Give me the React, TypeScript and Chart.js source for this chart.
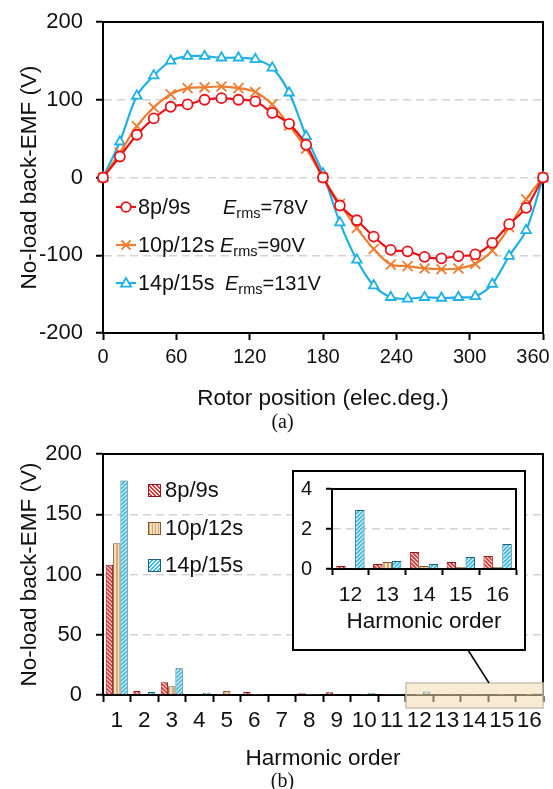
import React, { useEffect, useRef } from "react";
import { Chart, registerables } from "chart.js";

Chart.register(...registerables);

const FONT = '"Liberation Sans", Arial, sans-serif';

// ---------- (a) no-load back-EMF waveform ----------
const rotorAngle = [0, 13.8, 27.7, 41.5, 55.4, 69.2, 83.1, 96.9, 110.8, 124.6, 138.5, 152.3, 166.2, 180, 193.8, 207.7, 221.5, 235.4, 249.2, 263.1, 276.9, 290.8, 304.6, 318.5, 332.3, 346.2, 360];
const emf8p9s = [0, 27, 55, 76, 91, 94, 100, 102, 100, 98, 83, 69, 42, 0, -36, -55, -76, -93, -95, -102, -104, -101, -99, -84, -60, -39, 0];
const emf10p12s = [0, 32, 66, 90, 107, 115, 116, 117, 115, 110, 94, 67, 37, 0, -34, -65, -92, -112, -114, -117, -118, -117, -111, -94, -64, -28, 0];
const emf14p15s = [0, 46, 105, 131, 150, 156, 156, 154, 154, 152, 141, 109, 53, 5, -58, -106, -139, -154, -156, -154, -155, -154, -153, -137, -101, -68, 0];
const angleTicks = [0, 60, 120, 180, 240, 300, 360];
const emfTicks = [-200, -100, 0, 100, 200];
const seriesNames = ["8p/9s", "10p/12s", "14p/15s"];
const ermsValues = ["78V", "90V", "131V"];

// ---------- (b) harmonic spectrum ----------
const harmonicOrder = ["1", "2", "3", "4", "5", "6", "7", "8", "9", "10", "11", "12", "13", "14", "15", "16"];
const harm8p9s = [108, 3.3, 10.5, 0.5, 0.3, 2.5, 0.8, 1.5, 2.2, 0.5, 0.3, 0.15, 0.25, 0.85, 0.35, 0.65];
const harm10p12s = [126, 0.8, 7.2, 0.5, 3.3, 0.3, 0.8, 0.3, 0.5, 0.3, 0.3, 0.05, 0.35, 0.15, 0.1, 0.1];
const harm14p15s = [178, 2.5, 22.2, 1.7, 0.5, 0.3, 0.5, 0.3, 0.5, 1.5, 0.3, 2.95, 0.4, 0.25, 0.6, 1.25];
const harmTicks = [0, 50, 100, 150, 200];
const insetFrom = 11; // harmonic 12 onward
const insetTicks = [0, 2, 4];

const RED = "#e8141c";
const ORANGE = "#ed7d31";
const BLUE = "#1fb0e6";

const framePlugin = {
  id: "frame",
  beforeDatasetsDraw(chart: any) {
    const { ctx, chartArea: a } = chart;
    ctx.save();
    ctx.strokeStyle = "#000";
    ctx.lineWidth = 2;
    ctx.strokeRect(a.left, a.top, a.right - a.left, a.bottom - a.top);
    ctx.restore();
  },
};

function makePattern(kind: string, fg: string, bg: string) {
  const c = document.createElement("canvas");
  c.width = 4;
  c.height = 4;
  const g = c.getContext("2d")!;
  g.fillStyle = bg;
  g.fillRect(0, 0, 4, 4);
  g.strokeStyle = fg;
  g.fillStyle = fg;
  g.lineWidth = 1.6;
  g.beginPath();
  if (kind === "down") {
    g.moveTo(-1, -1); g.lineTo(5, 5);
    g.moveTo(-1, 3); g.lineTo(1, 5);
    g.moveTo(3, -1); g.lineTo(5, 1);
    g.stroke();
  } else if (kind === "up") {
    g.moveTo(-1, 5); g.lineTo(5, -1);
    g.moveTo(-1, 1); g.lineTo(1, -1);
    g.moveTo(3, 5); g.lineTo(5, 3);
    g.stroke();
  } else {
    g.fillRect(0, 0, 2, 4);
  }
  return g.createPattern(c, "repeat");
}

const gridColorSkip = (edges: number[]) => (c: any) =>
  c.tick && edges.includes(c.tick.value) ? "rgba(0,0,0,0)" : "#d3d3d3";

const setTicks = (vals: number[]) => (s: any) => {
  s.ticks = vals.map((v) => ({ value: v }));
};

function LegendIcon({ color, shape }: { color: string; shape: string }) {
  return (
    <svg width="22" height="14" style={{ position: "absolute", left: 115, top: 6 }}>
      <line x1="1" y1="7" x2="21" y2="7" stroke={color} strokeWidth="2.2" />
      {shape === "circle" && <circle cx="11" cy="7" r="4.8" fill="#fff" stroke={color} strokeWidth="1.8" />}
      {shape === "cross" && <path d="M6.5 2.5 L15.5 11.5 M15.5 2.5 L6.5 11.5" stroke={color} strokeWidth="1.8" />}
      {shape === "triangle" && <path d="M11 2 L16 10.6 L6 10.6 Z" fill="#fff" stroke={color} strokeWidth="1.8" />}
    </svg>
  );
}

export default function App() {
  const refA = useRef<HTMLCanvasElement>(null);
  const refB = useRef<HTMLCanvasElement>(null);
  const refC = useRef<HTMLCanvasElement>(null);

  useEffect(() => {
    const charts: Chart[] = [];
    const tickFont = (size: number) => ({ family: FONT, size });

    // ---------- chart (a) ----------
    const mk = (arr: number[]) => rotorAngle.map((x, i) => ({ x, y: arr[i] }));
    const lastAngle = angleTicks[angleTicks.length - 1];
    charts.push(
      new Chart(refA.current!, {
        type: "line",
        data: {
          datasets: [
            { label: seriesNames[0], data: mk(emf8p9s), borderColor: RED, borderWidth: 2.2, pointStyle: "circle", pointRadius: 5, pointBorderWidth: 1.8, pointBorderColor: RED, pointBackgroundColor: "#fff", tension: 0.3, clip: false },
            { label: seriesNames[1], data: mk(emf10p12s), borderColor: ORANGE, borderWidth: 2.2, pointStyle: "crossRot", pointRadius: 7, pointBorderWidth: 1.8, pointBorderColor: ORANGE, tension: 0.3, clip: false },
            { label: seriesNames[2], data: mk(emf14p15s), borderColor: BLUE, borderWidth: 2.2, pointStyle: "triangle", pointRadius: 5.5, pointBorderWidth: 1.8, pointBorderColor: BLUE, pointBackgroundColor: "#fff", tension: 0.3, clip: false },
          ],
        },
        options: {
          animation: false,
          responsive: false,
          devicePixelRatio: 1,
          layout: { padding: { top: 22, right: 10, left: 0, bottom: 0 } },
          plugins: { legend: { display: false }, tooltip: { enabled: false } },
          scales: {
            x: {
              type: "linear",
              min: 0,
              max: 360,
              afterBuildTicks: setTicks(angleTicks),
              afterFit: (s: any) => { s.height = 79; s.paddingLeft = 0; s.paddingRight = 0; },
              ticks: {
                font: tickFont(20),
                color: "#111",
                padding: 5,
                maxRotation: 0,
                autoSkip: false,
                // keep the last label inside the page, as in the source figure
                callback: (v: any) => (v === lastAngle ? String(v) + "\u2003" : String(v)),
              },
              grid: { drawOnChartArea: false, tickLength: 7, tickColor: "#000", tickWidth: 2 },
              border: { color: "#000", width: 2 },
              title: { display: true, text: "Rotor position (elec.deg.)", font: tickFont(22.5), color: "#111", padding: { top: 0, bottom: 0 } },
            },
            y: {
              type: "linear",
              min: -200,
              max: 200,
              afterBuildTicks: setTicks(emfTicks),
              afterFit: (s: any) => { s.width = 103; s.paddingTop = 0; s.paddingBottom = 0; },
              ticks: { font: tickFont(22), color: "#111", padding: 13 },
              grid: { color: gridColorSkip([-200, 200]), lineWidth: 1.5, tickLength: 7, tickColor: "#000", tickWidth: 2 },
              border: { color: "#000", width: 2, dash: [8, 5] },
              title: { display: true, text: "No-load back-EMF (V)", font: tickFont(22.5), color: "#111", padding: { top: 16, bottom: 0 } },
            },
          },
        },
        plugins: [framePlugin],
      } as any)
    );

    // ---------- patterns ----------
    const patRed = makePattern("down", "#d83434", "#fdeaea");
    const patTan = makePattern("vert", "#d9ad72", "#f3dfc0");
    const patBlue = makePattern("up", "#35b8e0", "#e8f8fd");

    const barDatasets = (from: number) => [
      { label: seriesNames[0], data: harm8p9s.slice(from), backgroundColor: patRed, borderColor: "#8e1b1b", borderWidth: 1 },
      { label: seriesNames[1], data: harm10p12s.slice(from), backgroundColor: patTan, borderColor: "#7d5a2e", borderWidth: 1 },
      { label: seriesNames[2], data: harm14p15s.slice(from), backgroundColor: patBlue, borderColor: "#1d5f7c", borderWidth: 1 },
    ];

    // ---------- chart (b) ----------
    charts.push(
      new Chart(refB.current!, {
        type: "bar",
        data: { labels: harmonicOrder, datasets: barDatasets(0) as any },
        options: {
          animation: false,
          responsive: false,
          devicePixelRatio: 1,
          layout: { padding: { top: 24, right: 10, left: 0, bottom: 0 } },
          plugins: { legend: { display: false }, tooltip: { enabled: false } },
          datasets: { bar: { barPercentage: 1, categoryPercentage: 0.8 } },
          scales: {
            x: {
              type: "category",
              offset: true,
              afterFit: (s: any) => { s.height = 80; s.paddingLeft = 0; s.paddingRight = 0; },
              ticks: { font: tickFont(22.5), color: "#111", padding: 5, maxRotation: 0, autoSkip: false },
              grid: { offset: true, drawOnChartArea: false, tickLength: 7, tickColor: "#000", tickWidth: 2 },
              border: { color: "#000", width: 2 },
              title: { display: true, text: "Harmonic order", font: tickFont(22.5), color: "#111", padding: { top: 0, bottom: 2.5 } },
            },
            y: {
              type: "linear",
              min: 0,
              max: 200,
              afterBuildTicks: setTicks(harmTicks),
              afterFit: (s: any) => { s.width = 103; s.paddingTop = 0; s.paddingBottom = 0; },
              ticks: { font: tickFont(22), color: "#111", padding: 14 },
              grid: { color: gridColorSkip([0, 200]), lineWidth: 1.5, tickLength: 7, tickColor: "#000", tickWidth: 2 },
              border: { color: "#000", width: 2, dash: [8, 5] },
              title: { display: true, text: "No-load back-EMF (V)", font: tickFont(22.5), color: "#111", padding: { top: 16, bottom: 0 } },
            },
          },
        },
        plugins: [framePlugin],
      } as any)
    );

    // ---------- inset ----------
    charts.push(
      new Chart(refC.current!, {
        type: "bar",
        data: { labels: harmonicOrder.slice(insetFrom), datasets: barDatasets(insetFrom) as any },
        options: {
          animation: false,
          responsive: false,
          devicePixelRatio: 1,
          layout: { padding: { top: 14, right: 7, left: 0, bottom: 0 } },
          plugins: { legend: { display: false }, tooltip: { enabled: false } },
          datasets: { bar: { barPercentage: 1, categoryPercentage: 0.77 } },
          scales: {
            x: {
              type: "category",
              offset: true,
              afterFit: (s: any) => { s.height = 76; s.paddingLeft = 0; s.paddingRight = 0; },
              ticks: { font: tickFont(21), color: "#111", padding: 8, maxRotation: 0, autoSkip: false },
              grid: { offset: true, drawOnChartArea: false, tickLength: 6, tickColor: "#000", tickWidth: 2 },
              border: { color: "#000", width: 2 },
              title: { display: true, text: "Harmonic order", font: tickFont(22.5), color: "#111", padding: { top: 0, bottom: 9.5 } },
            },
            y: {
              type: "linear",
              min: 0,
              max: 4,
              afterBuildTicks: setTicks(insetTicks),
              afterFit: (s: any) => { s.width = 37; s.paddingTop = 0; s.paddingBottom = 0; },
              ticks: { font: tickFont(20), color: "#111", padding: 14 },
              grid: { color: gridColorSkip([0, 4]), lineWidth: 1.5, tickLength: 6, tickColor: "#000", tickWidth: 2 },
              border: { color: "#000", width: 2, dash: [8, 5] },
            },
          },
        },
        plugins: [framePlugin],
      } as any)
    );

    return () => charts.forEach((c) => c.destroy());
  }, []);

  const legendRowsA = [
    { color: RED, shape: "circle", y: 207, eX: 223 },
    { color: ORANGE, shape: "cross", y: 245, eX: 220 },
    { color: BLUE, shape: "triangle", y: 283, eX: 225 },
  ];
  const swatchBg = [
    "repeating-linear-gradient(45deg, #fdeaea 0 1.2px, #d83434 1.2px 2.8px)",
    "repeating-linear-gradient(90deg, #d9ad72 0 1.5px, #f3dfc0 1.5px 3px)",
    "repeating-linear-gradient(-45deg, #e8f8fd 0 1.2px, #35b8e0 1.2px 2.8px)",
  ];
  const swatchBorder = ["#8e1b1b", "#7d5a2e", "#1d5f7c"];
  const legendRowsB = [490, 528, 565];

  return (
    <div style={{ position: "absolute", left: 0, top: 0, width: 553, height: 789, background: "#fff", fontFamily: FONT, color: "#111", overflow: "hidden" }}>
      <canvas ref={refA} width={553} height={412} style={{ position: "absolute", left: 0, top: 0, width: 553, height: 412 }} />
      {legendRowsA.map((r, i) => (
        <div key={i} style={{ position: "absolute", left: 0, top: r.y - 13, height: 26, width: 400 }}>
          <LegendIcon color={r.color} shape={r.shape} />
          <div style={{ position: "absolute", left: 138, top: 0, fontSize: 21.5, lineHeight: "26px", whiteSpace: "nowrap" }}>{seriesNames[i]}</div>
          <div style={{ position: "absolute", left: r.eX, top: 0, fontSize: 20, lineHeight: "26px", whiteSpace: "nowrap" }}>
            <span style={{ fontStyle: "italic" }}>E</span>
            <span style={{ fontSize: 14.5, position: "relative", top: 4 }}>rms</span>
            <span>={ermsValues[i]}</span>
          </div>
        </div>
      ))}
      <div style={{ position: "absolute", left: 260, top: 408, width: 45, textAlign: "center", fontFamily: '"Liberation Serif", "Times New Roman", serif', fontSize: 20, lineHeight: "26px" }}>(a)</div>

      <canvas ref={refB} width={553} height={345} style={{ position: "absolute", left: 0, top: 430, width: 553, height: 345 }} />
      {legendRowsB.map((y, i) => (
        <div key={i} style={{ position: "absolute", left: 0, top: y - 13, height: 26, width: 300 }}>
          <div style={{ position: "absolute", left: 148, top: 6.5, width: 13, height: 13, boxSizing: "border-box", border: `1px solid ${swatchBorder[i]}`, background: swatchBg[i] }} />
          <div style={{ position: "absolute", left: 165, top: 0, fontSize: 22, lineHeight: "26px", whiteSpace: "nowrap" }}>{seriesNames[i]}</div>
        </div>
      ))}
      <svg width={553} height={789} style={{ position: "absolute", left: 0, top: 0, pointerEvents: "none" }}>
        <rect x={406} y={683} width={137} height={25} fill="rgba(242,222,176,0.55)" stroke="#c9c1b1" strokeWidth={1.5} />
        <line x1={468} y1={650} x2={489} y2={683} stroke="#000" strokeWidth={1.5} />
      </svg>
      <div style={{ position: "absolute", left: 292, top: 470, width: 234, height: 181, boxSizing: "border-box", border: "2px solid #000", background: "#fff" }} />
      <canvas ref={refC} width={228} height={170} style={{ position: "absolute", left: 295, top: 475, width: 228, height: 170 }} />
      <div style={{ position: "absolute", left: 260, top: 767, width: 45, textAlign: "center", fontFamily: '"Liberation Serif", "Times New Roman", serif', fontSize: 20, lineHeight: "26px" }}>(b)</div>
    </div>
  );
}
